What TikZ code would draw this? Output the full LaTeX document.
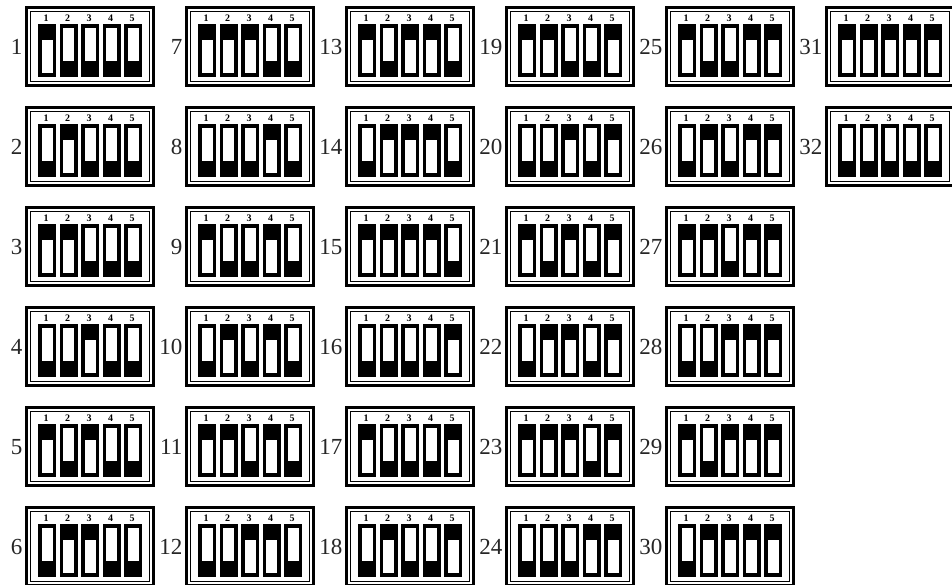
\documentclass[tikz,border=0pt]{standalone}
\usepackage{fontspec}
\setmainfont{Liberation Serif}
\begin{document}
\begin{tikzpicture}[x=1pt,y=-1pt,
  outerbox/.style={draw=black,line width=3.2pt},
  innerbox/.style={draw=black,line width=0.9pt},
  swbody/.style={fill=black},
  swwin/.style={fill=white},
  numlab/.style={font=\fontsize{23}{23}\selectfont,anchor=east,inner sep=0pt,text=black!85},
  pinlab/.style={font=\bfseries\fontsize{10}{10}\selectfont,inner sep=0pt}]
\useasboundingbox (0,0) rectangle (952,584);
\fill[white] (0,0) rectangle (952,584);
\foreach \n in {1,...,32}{
  \pgfmathtruncatemacro{\col}{floor((\n-1)/6)}
  \pgfmathtruncatemacro{\row}{mod(\n-1,6)}
  \pgfmathsetmacro{\bx}{25+160*\col}
  \pgfmathsetmacro{\by}{6+100*\row}
  \begin{scope}[shift={(\bx,\by)}]
    \draw[outerbox] (1.6,1.6) rectangle (128.4,79.4);
    \draw[innerbox] (5.2,5.2) rectangle (124.8,75.8);
    \node[numlab] (lab\n) at (-2.5,41) {\n};
    \foreach \k in {1,...,5}{
      \pgfmathtruncatemacro{\bit}{mod(floor(\n/(2^(\k-1))),2)}
      \pgfmathsetmacro{\sx}{13+21.5*(\k-1)}
      \node[pinlab] (p\n-\k) at (\sx+8,12) {\k};
      \fill[swbody] (\sx,18) rectangle ++(18,53);
      \ifnum\bit=1
        \fill[swwin] (\sx+3.5,34) rectangle ++(11,33);
      \else
        \fill[swwin] (\sx+3.5,22) rectangle ++(11,33);
      \fi
    }
  \end{scope}
}
\end{tikzpicture}
\end{document}
